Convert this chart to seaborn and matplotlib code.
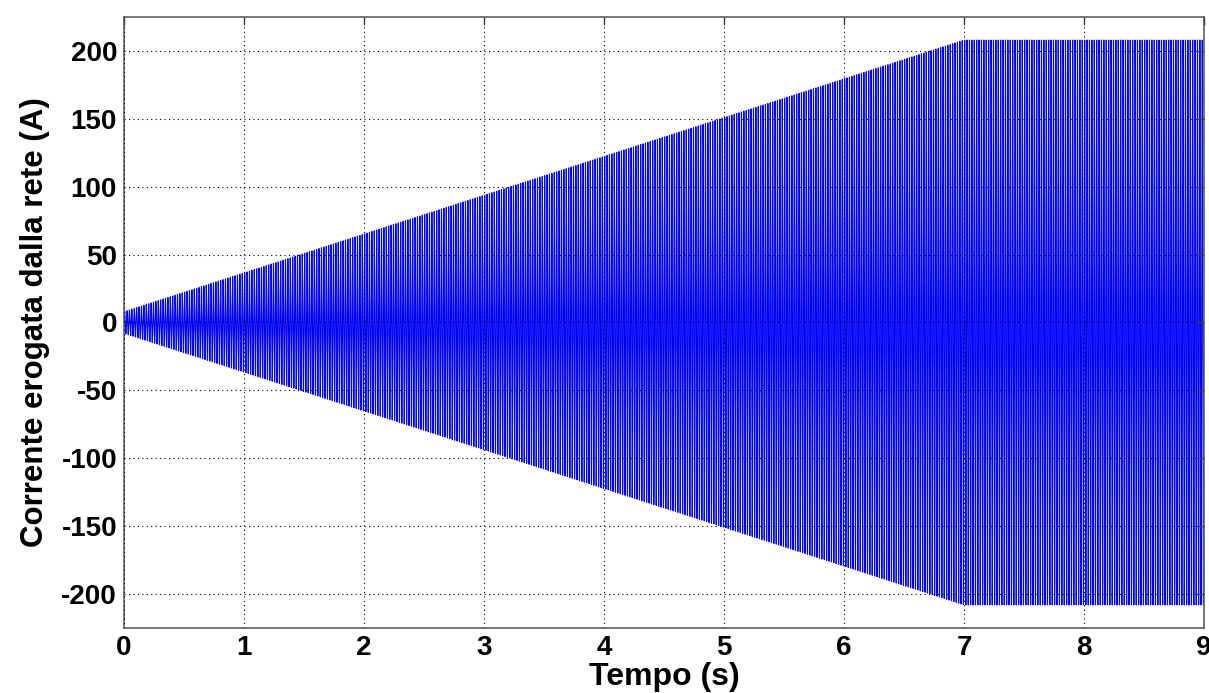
import numpy as np
import pandas as pd
import seaborn as sns
import matplotlib
matplotlib.use("Agg")
import matplotlib.pyplot as plt

# Envelope breakpoints (time in s, amplitude in A)
env_time = [0.0, 7.0, 9.0]
env_amp = [8.0, 208.0, 208.0]
freq_hz = 50.0          # grid frequency of the current
sample_step = 1e-4      # simulation step (s)

x_ticks = [0, 1, 2, 3, 4, 5, 6, 7, 8, 9]
y_ticks = [-200, -150, -100, -50, 0, 50, 100, 150, 200]

t = np.arange(0.0, 9.0 + sample_step / 2, sample_step)
amp = np.interp(t, env_time, env_amp)
current = amp * np.sin(2 * np.pi * freq_hz * t)
df = pd.DataFrame({"t": t, "i": current})

sns.set_style("white")
plt.rcParams["font.family"] = ["Liberation Sans", "DejaVu Sans"]
plt.rcParams["font.weight"] = "bold"
plt.rcParams["text.color"] = "black"
plt.rcParams["axes.labelcolor"] = "black"

fig = plt.figure(figsize=(12.09, 6.93), dpi=100)
ax = fig.add_axes([0.1026, 0.0938, 0.8933, 0.8817])

sns.lineplot(data=df, x="t", y="i", ax=ax, color="#0000ff", linewidth=0.8,
             estimator=None, sort=False, errorbar=None, antialiased=True)

ax.set_xlim(0, 9)
ax.set_ylim(-225, 225)
ax.set_xticks(x_ticks)
ax.set_yticks(y_ticks)
ax.set_xticklabels([str(v) for v in x_ticks], fontsize=20, fontweight="bold", color="black")
ax.set_yticklabels([str(v) for v in y_ticks], fontsize=20, fontweight="bold", color="black")
ax.set_xlabel("Tempo (s)", fontsize=23, fontweight="bold", labelpad=1, color="black")
ax.set_ylabel("Corrente erogata dalla rete (A)", fontsize=22.5, fontweight="bold",
              labelpad=8, color="black")

ax.grid(True, linestyle=(0, (1, 3)), color="black", linewidth=0.8)
ax.set_axisbelow(False)
ax.tick_params(direction="in", length=6, width=1, top=True, right=True,
               colors="#404040", labelcolor="black", pad=5)
for s in ax.spines.values():
    s.set_color("#606060")
    s.set_linewidth(1.2)
    s.set_visible(True)

fig.savefig("out.png", dpi=100, facecolor="white")
